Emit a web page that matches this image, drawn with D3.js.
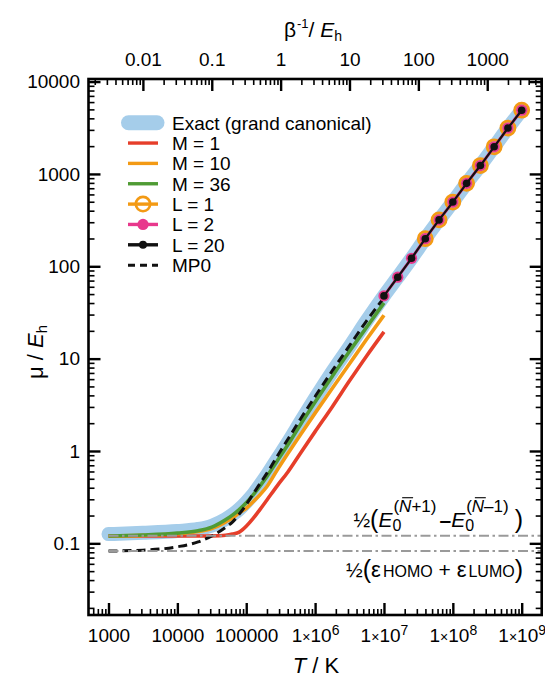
<!DOCTYPE html>
<html>
<head>
<meta charset="utf-8">
<script src="https://cdnjs.cloudflare.com/ajax/libs/d3/7.8.5/d3.min.js"></script>
<style>
  body { margin: 0; background: #fff; }
  svg { display: block; font-family: "Liberation Sans", Arial, Helvetica, sans-serif; }
  text { white-space: pre; }
</style>
</head>
<body>
<script>
const HARTREE_K = 315775; // 1 Eh in kelvin, for the top axis

// temperature grid (K) for the M curves, MP0 and the low-T part of the exact curve
const tempCurve = [1e3, 3.16e3, 1e4, 2e4, 3.16e4, 5e4, 6.3e4, 7.9e4, 1e5, 1.26e5, 1.58e5,
  2e5, 2.8e5, 4e5, 6.3e5, 1e6, 1.78e6, 3.16e6, 5.6e6, 1e7];
const muExactLow = [0.126, 0.130, 0.136, 0.143, 0.155, 0.182, 0.204, 0.234, 0.279, 0.339, 0.427,
  0.550, 0.813, 1.23, 2.14, 3.72, 7.24, 13.5, 25.7, 47.9];
const muM1 = [0.120, 0.120, 0.120, 0.120, 0.1205, 0.1225, 0.126, 0.132, 0.153, 0.186, 0.232,
  0.295, 0.417, 0.589, 0.977, 1.62, 3.02, 5.75, 10.7, 19.5];
const muM10 = [0.120, 0.122, 0.127, 0.134, 0.145, 0.170, 0.188, 0.214, 0.240, 0.282, 0.335,
  0.412, 0.617, 0.933, 1.55, 2.57, 4.79, 8.81, 16.2, 29.5];
const muM36 = [0.120, 0.123, 0.129, 0.137, 0.150, 0.180, 0.202, 0.232, 0.275, 0.335, 0.417,
  0.531, 0.776, 1.16, 2.00, 3.39, 6.46, 12.0, 21.9, 40.2];
const muMP0 = [0.0826, 0.0843, 0.0918, 0.1035, 0.120, 0.149, 0.170, 0.207, 0.263, 0.343, 0.442,
  0.575, 0.871, 1.33, 2.29, 3.89, 7.41, 13.8, 25.7, 45.7];

// L-truncated results at high temperature
const tempL20 = [1e7, 1.585e7, 2.512e7, 3.981e7, 6.31e7, 1e8, 1.585e8, 2.512e8, 3.981e8, 6.31e8, 1e9];
const muL20 = [47.8, 76.2, 122, 199, 318, 496, 791, 1233, 1968, 3141, 4898];
const tempL2 = [1e7, 1.585e7, 2.512e7, 3.981e7, 6.31e7, 1e8, 1.585e8, 2.512e8, 3.981e8, 6.31e8, 1e9];
const muL2 = [47.8, 76.2, 122, 199, 318, 496, 791, 1233, 1968, 3141, 4898];
const tempL1 = [3.981e7, 6.31e7, 1e8, 1.585e8, 2.512e8, 3.981e8, 6.31e8, 1e9];
const muL1 = [199, 318, 496, 791, 1233, 1968, 3141, 4898];

// reference levels (dash-dot)
const gapLevel = 0.1205;      // ½(E0(N+1) - E0(N-1))
const homoLumoLevel = 0.0828; // ½(eHOMO + eLUMO)

const xMajor = [1e3, 1e4, 1e5, 1e6, 1e7, 1e8, 1e9];
const xMajorLabels = ["1000", "10000", "100000", "1×10^6", "1×10^7", "1×10^8", "1×10^9"];
const topMajor = [0.01, 0.1, 1, 10, 100, 1000];
const topMajorLabels = ["0.01", "0.1", "1", "10", "100", "1000"];
const yMajor = [0.1, 1, 10, 100, 1000, 10000];
const yMajorLabels = ["0.1", "1", "10", "100", "1000", "10000"];

const legendLabels = ["Exact (grand canonical)", "M = 1", "M = 10", "M = 36", "L = 1", "L = 2", "L = 20", "MP0"];

const colors = {
  exact: "#a5cdea", m1: "#e63e2a", m10: "#f39a14", m36: "#4f9b34",
  l1: "#f39a14", l2: "#e8388c", l20: "#111", mp0: "#111", ref: "#9a9a9a"
};

const margin = { top: 79, right: 3.3, bottom: 64, left: 88.5 };
const width = 545 - margin.left - margin.right;
const height = 679 - margin.top - margin.bottom;
const font = "Liberation Sans, Arial, Helvetica, sans-serif";

const x = d3.scaleLog().domain([10 ** 2.7096, 10 ** 9.2904]).range([0, width]);
const xTop = d3.scaleLog().domain(x.domain().map((t) => t / HARTREE_K)).range([0, width]);
const y = d3.scaleLog().domain([10 ** -1.776, 10 ** 4.028]).range([height, 0]);

const svg = d3.select("body").append("svg").attr("width", 545).attr("height", 679);
const plot = svg.append("g").attr("transform", `translate(${margin.left},${margin.top})`);

function minorTicks(scale) {
  const [lo, hi] = scale.domain();
  const out = [];
  for (let e = Math.floor(Math.log10(lo)); e <= Math.ceil(Math.log10(hi)); e++) {
    for (let m = 2; m <= 9; m++) {
      const v = m * Math.pow(10, e);
      if (v >= lo && v <= hi) out.push(v);
    }
  }
  return out;
}

function styleAxis(g, tickWidth) {
  g.select(".domain").remove();
  g.selectAll("line").attr("stroke", "#000").attr("stroke-width", tickWidth);
  g.attr("font-size", 19).attr("font-family", font);
  g.selectAll("text").attr("fill", "#000");
  return g;
}

function addAxis(axisFn, scale, majors, labels, transform, padding) {
  const minor = plot.append("g").attr("transform", transform)
    .call(axisFn(scale).tickValues(minorTicks(scale)).tickSize(-6).tickFormat(""));
  styleAxis(minor, 1.6);
  const major = plot.append("g").attr("transform", transform)
    .call(axisFn(scale).tickValues(majors).tickSize(-12).tickPadding(padding)
      .tickFormat((d, i) => (labels ? labels[i] : "")));
  return styleAxis(major, 2.4);
}

// ---- axes
const bottomAxis = addAxis(d3.axisBottom, x, xMajor, xMajorLabels, `translate(0,${height})`, 13.5);
bottomAxis.selectAll("text").each(function () {
  const parts = d3.select(this).text().split("^");
  if (parts.length < 2) return;
  const t = d3.select(this).text(null);
  t.append("tspan").text("1");
  t.append("tspan").attr("font-size", 14).text("×");
  t.append("tspan").text("10");
  t.append("tspan").attr("font-size", 14).attr("dy", "-0.5em").text(parts[1]);
});
addAxis(d3.axisTop, xTop, topMajor, topMajorLabels, "translate(0,0)", 13);
addAxis(d3.axisLeft, y, yMajor, yMajorLabels, "translate(0,0)", 8.5);
addAxis(d3.axisRight, y, yMajor, null, `translate(${width},0)`, 0);

// ---- curves
const line = d3.line()
  .x((d) => x(d[0]))
  .y((d) => y(d[1]))
  .curve(d3.curveMonotoneX);

const tempExact = tempCurve.concat(tempL20.slice(1));
const muExact = muExactLow.concat(muL20.slice(1));

plot.append("path")
  .attr("d", line(d3.zip(tempExact, muExact)))
  .attr("fill", "none")
  .attr("stroke", colors.exact)
  .attr("stroke-width", 14)
  .attr("stroke-linecap", "round")
  .attr("stroke-linejoin", "round");

[[muM1, colors.m1], [muM10, colors.m10], [muM36, colors.m36]].forEach(([mu, c]) => {
  plot.append("path")
    .attr("d", line(d3.zip(tempCurve, mu)))
    .attr("fill", "none")
    .attr("stroke", c)
    .attr("stroke-width", 3.6);
});

plot.append("path")
  .attr("d", line(d3.zip(tempCurve, muMP0)))
  .attr("fill", "none")
  .attr("stroke", colors.mp0)
  .attr("stroke-width", 3)
  .attr("stroke-dasharray", "9,5");

[gapLevel, homoLumoLevel].forEach((level) => {
  plot.append("line")
    .attr("x1", x(1e3)).attr("x2", width)
    .attr("y1", y(level)).attr("y2", y(level))
    .attr("stroke", colors.ref)
    .attr("stroke-width", 2)
    .attr("stroke-dasharray", "10,3.5,2.5,3.5");
});

// L markers
plot.selectAll(".l1").data(d3.zip(tempL1, muL1)).enter().append("circle")
  .attr("cx", (d) => x(d[0])).attr("cy", (d) => y(d[1]))
  .attr("r", 7).attr("fill", "none")
  .attr("stroke", colors.l1).attr("stroke-width", 2.8);

plot.append("path")
  .attr("d", d3.line().x((d) => x(d[0])).y((d) => y(d[1]))(d3.zip(tempL2, muL2)))
  .attr("fill", "none").attr("stroke", colors.l2).attr("stroke-width", 3);
plot.selectAll(".l2").data(d3.zip(tempL2, muL2)).enter().append("circle")
  .attr("cx", (d) => x(d[0])).attr("cy", (d) => y(d[1]))
  .attr("r", 5.6).attr("fill", colors.l2);

plot.append("path")
  .attr("d", d3.line().x((d) => x(d[0])).y((d) => y(d[1]))(d3.zip(tempL20, muL20)))
  .attr("fill", "none").attr("stroke", colors.l20).attr("stroke-width", 2.2);
plot.selectAll(".l20").data(d3.zip(tempL20, muL20)).enter().append("circle")
  .attr("cx", (d) => x(d[0])).attr("cy", (d) => y(d[1]))
  .attr("r", 3.8).attr("fill", colors.l20);

// frame
plot.append("rect")
  .attr("width", width).attr("height", height)
  .attr("fill", "none").attr("stroke", "#000").attr("stroke-width", 2.6);

// ---- legend
const legend = svg.append("g").attr("font-family", font).attr("font-size", 19);
const legendKinds = ["exact", "m1", "m10", "m36", "l1", "l2", "l20", "mp0"];

legendLabels.forEach((label, i) => {
  const ly = 122.7 + i * 20.35;
  const kind = legendKinds[i];
  const row = legend.append("g");

  if (kind === "exact") {
    row.append("line").attr("x1", 128.5).attr("x2", 157).attr("y1", ly).attr("y2", ly)
      .attr("stroke", colors.exact).attr("stroke-width", 15).attr("stroke-linecap", "round");
  } else {
    const seg = row.append("line").attr("x1", 128).attr("x2", 158).attr("y1", ly).attr("y2", ly)
      .attr("stroke", colors[kind]).attr("stroke-width", kind === "mp0" ? 3 : 3.4);
    if (kind === "mp0") seg.attr("stroke-dasharray", "7,5");
    if (kind === "l1") {
      row.append("circle").attr("cx", 143).attr("cy", ly).attr("r", 7.2)
        .attr("fill", "none").attr("stroke", colors.l1).attr("stroke-width", 2.6);
    }
    if (kind === "l2") row.append("circle").attr("cx", 143).attr("cy", ly).attr("r", 5.6).attr("fill", colors.l2);
    if (kind === "l20") row.append("circle").attr("cx", 143).attr("cy", ly).attr("r", 4).attr("fill", colors.l20);
  }

  row.append("text").attr("x", 172).attr("y", ly).attr("dy", "0.36em").text(label);
});

// ---- rich text labels (sub/superscripts laid out by measured widths)
function richLabel(parent, parts, ax, baseline, anchor) {
  const g = parent.append("g").attr("font-family", font);
  let cursor = 0;
  let mark = 0;
  parts.forEach((p) => {
    if (p.mark) mark = cursor;
    const t = g.append("text")
      .attr("y", baseline + (p.dy || 0))
      .attr("font-size", p.size)
      .attr("font-style", p.italic ? "italic" : null)
      .attr("font-weight", p.bold ? "bold" : null)
      .text(p.text);
    const w = t.node().getComputedTextLength();
    const start = (p.stack ? mark : cursor) + (p.dx || 0);
    t.attr("x", start);
    if (p.over) {
      const oy = baseline + (p.dy || 0) - p.size * 0.84;
      g.append("line")
        .attr("x1", start + p.size * 0.18).attr("x2", start + w + p.size * 0.1)
        .attr("y1", oy).attr("y2", oy)
        .attr("stroke", "#000").attr("stroke-width", 1.1);
    }
    cursor = p.stack ? Math.max(cursor, start + w) : start + w;
  });
  const shift = anchor === "end" ? ax - cursor : ax - cursor / 2;
  g.attr("transform", `translate(${shift},0)`);
  return g;
}

// ½(E0^(N+1) – E0^(N-1))
richLabel(svg, [
  { text: "½", size: 20 },
  { text: "(", size: 25, dy: 1 },
  { text: "E", size: 21, italic: true },
  { text: "(", size: 17, dy: -15, dx: 1, mark: true },
  { text: "N", size: 17, dy: -15, italic: true, over: true },
  { text: "+1)", size: 17, dy: -15 },
  { text: "0", size: 16, dy: 4, stack: true },
  { text: "–", size: 21, bold: true, dx: 3 },
  { text: "E", size: 21, italic: true },
  { text: "(", size: 17, dy: -15, dx: 1, mark: true },
  { text: "N", size: 17, dy: -15, italic: true, over: true },
  { text: "–1)", size: 17, dy: -15 },
  { text: "0", size: 16, dy: 4, stack: true },
  { text: ")", size: 25, dy: 1, dx: 6 }
], 523, 527, "end");

// ½(eHOMO + eLUMO)
richLabel(svg, [
  { text: "½", size: 20 },
  { text: "(", size: 25, dy: 1 },
  { text: "ε", size: 22 },
  { text: "HOMO", size: 16, dx: 2 },
  { text: " + ", size: 21 },
  { text: "ε", size: 22 },
  { text: "LUMO", size: 16, dx: 2 },
  { text: ")", size: 25, dy: 1 }
], 523, 577, "end");

// axis titles
richLabel(svg, [
  { text: "β", size: 21 },
  { text: "-1", size: 13, dy: -9, dx: 1 },
  { text: "/ ", size: 21 },
  { text: "E", size: 21, italic: true },
  { text: "h", size: 14, dy: 4 }
], 313, 37, "middle");

richLabel(svg, [
  { text: "T", size: 22, italic: true },
  { text: " / K", size: 22 }
], 316, 673, "middle");

const yTitle = svg.append("g").attr("transform", "translate(43,352) rotate(-90)");
richLabel(yTitle, [
  { text: "μ", size: 22 },
  { text: " / ", size: 22 },
  { text: "E", size: 22, italic: true },
  { text: "h", size: 15, dy: 4 }
], 0, 0, "middle");
</script>
</body>
</html>
